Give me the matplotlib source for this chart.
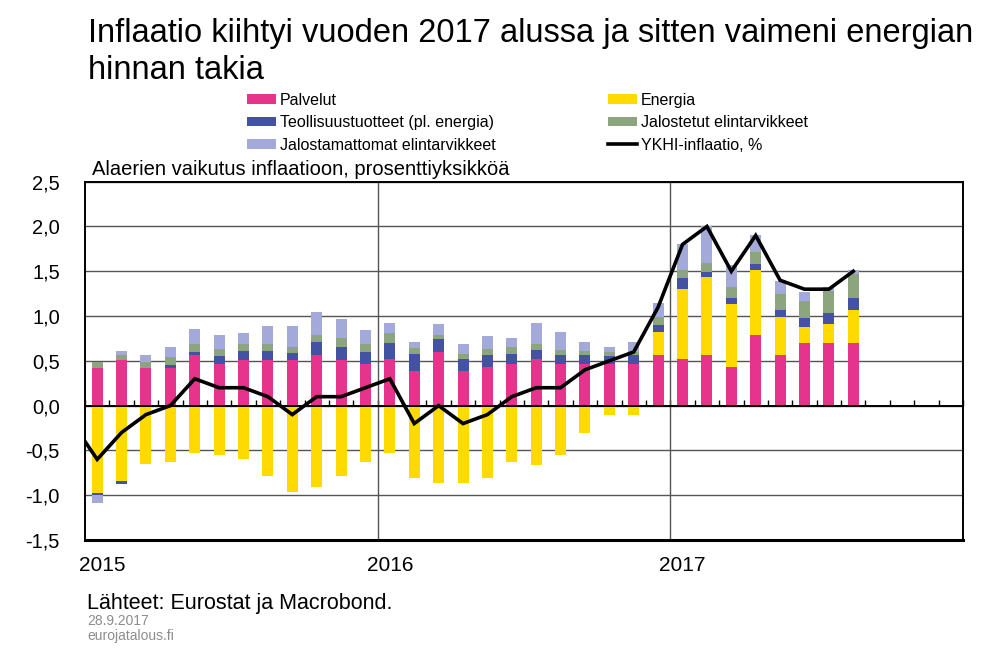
import numpy as np
import matplotlib
matplotlib.use("Agg")
import matplotlib.pyplot as plt
from matplotlib.ticker import FuncFormatter, FixedLocator

plt.rcParams['font.family'] = ['Liberation Sans', 'DejaVu Sans']

# ---- data ----
months = [f"{y}-{m:02d}" for y in (2015, 2016, 2017) for m in range(1, 13)][:32]
palvelut = [0.42, 0.51, 0.42, 0.42, 0.56, 0.47, 0.51, 0.51, 0.51, 0.56, 0.51, 0.47,
            0.52, 0.39, 0.60, 0.39, 0.43, 0.47, 0.52, 0.47, 0.46, 0.47, 0.47, 0.56,
            0.52, 0.56, 0.43, 0.79, 0.56, 0.70, 0.70, 0.70]
energia = [-0.97, -0.84, -0.65, -0.63, -0.53, -0.55, -0.60, -0.78, -0.96, -0.91, -0.79, -0.63,
           -0.53, -0.81, -0.86, -0.86, -0.81, -0.63, -0.66, -0.55, -0.30, -0.10, -0.11, 0.26,
           0.78, 0.88, 0.70, 0.72, 0.43, 0.18, 0.21, 0.37]
teollisuus = [-0.03, -0.03, 0.00, 0.03, 0.04, 0.08, 0.10, 0.10, 0.08, 0.15, 0.15, 0.13,
              0.18, 0.19, 0.14, 0.13, 0.13, 0.11, 0.10, 0.09, 0.10, 0.08, 0.09, 0.08,
              0.13, 0.05, 0.07, 0.07, 0.08, 0.10, 0.12, 0.13]
jalostetut = [0.07, 0.05, 0.07, 0.09, 0.09, 0.08, 0.08, 0.08, 0.07, 0.08, 0.09, 0.09,
              0.11, 0.06, 0.05, 0.06, 0.07, 0.07, 0.07, 0.06, 0.05, 0.05, 0.04, 0.09,
              0.08, 0.10, 0.13, 0.14, 0.18, 0.19, 0.25, 0.27]
jalostamattomat = [-0.09, 0.05, 0.08, 0.11, 0.16, 0.16, 0.12, 0.20, 0.23, 0.25, 0.22, 0.15,
                   0.11, 0.07, 0.12, 0.11, 0.15, 0.11, 0.23, 0.20, 0.10, 0.05, 0.11, 0.16,
                   0.29, 0.41, 0.24, 0.18, 0.14, 0.10, 0.04, 0.04]
# HICP inflation, Dec 2014 .. Aug 2017
ykhi_months = ["2014-12"] + months
ykhi = [-0.2, -0.6, -0.3, -0.1, 0.0, 0.3, 0.2, 0.2, 0.1, -0.1, 0.1, 0.1, 0.2,
        0.3, -0.2, 0.0, -0.2, -0.1, 0.1, 0.2, 0.2, 0.4, 0.5, 0.6, 1.1,
        1.8, 2.0, 1.5, 1.9, 1.4, 1.3, 1.3, 1.5]
years = ["2015", "2016", "2017"]

series = [
    ("Palvelut", palvelut, "#E6338C"),
    ("Energia", energia, "#FFDA00"),
    ("Teollisuustuotteet (pl. energia)", teollisuus, "#4352A3"),
    ("Jalostetut elintarvikkeet", jalostetut, "#8CA57E"),
    ("Jalostamattomat elintarvikkeet", jalostamattomat, "#A3A9D8"),
]

def month_index(s):
    y, m = s.split("-")
    return (int(y) - 2015) * 12 + int(m) - 1

x = np.array([month_index(m) for m in months], dtype=float)
xl = np.array([month_index(m) for m in ykhi_months], dtype=float)

fig = plt.figure(figsize=(10, 6.54), dpi=100)
ax = fig.add_axes([0.085, 1 - 540 / 654, 0.878, (540 - 181.7) / 654])

pos = np.zeros(len(x))
neg = np.zeros(len(x))
handles = {}
for name, vals, col in series:
    v = np.array(vals)
    bottom = np.where(v >= 0, pos, neg)
    b = ax.bar(x, v, width=0.45, bottom=bottom, color=col, edgecolor='none', zorder=2, label=name)
    handles[name] = b
    pos = pos + np.where(v >= 0, v, 0)
    neg = neg + np.where(v < 0, v, 0)

ln, = ax.plot(xl, ykhi, color='black', lw=2.6, zorder=4, label="YKHI-inflaatio, %",
              solid_joinstyle='miter')

ax.set_xlim(-0.5, 35.5)
ax.set_ylim(-1.5, 2.5)
ax.set_axisbelow(True)

ax.set_yticks(np.arange(-1.5, 2.51, 0.5))
ax.yaxis.set_major_formatter(FuncFormatter(lambda v, p: f"{v:.1f}".replace(".", ",")))
ax.tick_params(axis='y', length=0, pad=18, labelsize=14.5)
ax.yaxis.grid(True, color='#555555', lw=1.0)

# x axis: spine at zero with month ticks
ax.spines['bottom'].set_position(('data', 0))
ax.spines['bottom'].set_linewidth(1.4)
ax.set_xticks([])
ax.xaxis.set_minor_locator(FixedLocator(np.arange(-0.5, 36, 1)))
ax.tick_params(axis='x', which='minor', direction='in', length=4, width=1, color='black')
ax.axhline(-1.5, color='black', lw=2.2, zorder=5, clip_on=False)
for s in ('left', 'right', 'top'):
    ax.spines[s].set_linewidth(1.4)
for k in (1, 2):
    ax.axvline(k * 12 - 0.5, color='#555555', lw=1.0, zorder=1)

for i, yr in enumerate(years):
    ax.text(i * 12 + (0.2 if i == 0 else 0.0), -0.045, yr, transform=ax.get_xaxis_transform(),
            ha='center', va='top', fontsize=15)

# legend
order = ["Palvelut", "Teollisuustuotteet (pl. energia)", "Jalostamattomat elintarvikkeet",
         "Energia", "Jalostetut elintarvikkeet"]
hs = [handles[n] for n in order] + [ln]
labs = order + ["YKHI-inflaatio, %"]
fig.legend(hs, labs, ncol=2, loc='upper left', bbox_to_anchor=(0.247, 0.858),
           frameon=False, fontsize=11.5, handlelength=1.8, handleheight=0.55,
           handletextpad=0.25, columnspacing=7.05, labelspacing=0.46, borderaxespad=0,
           borderpad=0)

fig.text(0.088, 0.972, "Inflaatio kiihtyi vuoden 2017 alussa ja sitten vaimeni energian\nhinnan takia",
         ha='left', va='top', fontsize=23.5, linespacing=1.22)
fig.text(0.092, 1 - 170 / 654, "Alaerien vaikutus inflaatioon, prosenttiyksikköä",
         ha='left', va='center', fontsize=14.5)
fig.text(0.087, 1 - 604 / 654, "Lähteet: Eurostat ja Macrobond.", ha='left', va='center', fontsize=15.5)
fig.text(0.087, 1 - 621 / 654, "28.9.2017", ha='left', va='center', fontsize=10, color='#8c8c8c')
fig.text(0.087, 1 - 636 / 654, "eurojatalous.fi", ha='left', va='center', fontsize=10, color='#8c8c8c')

fig.savefig("out.png", dpi=100)
